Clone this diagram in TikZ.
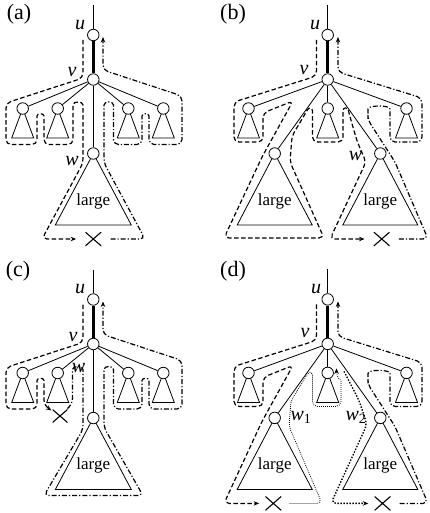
\documentclass[tikz,border=0pt]{standalone}
\usepackage{fontspec}
\setmainfont{Liberation Serif}
\usetikzlibrary{arrows.meta,backgrounds}
\begin{document}
\begin{tikzpicture}[x=1pt,y=-1pt,
  nd/.style={circle, draw, fill=white, minimum size=11.5pt, inner sep=0pt, line width=0.8pt},
  ed/.style={line width=0.8pt},
  tk/.style={line width=2.8pt},
  tri/.style={line width=0.8pt},
  lbl/.style={font=\fontsize{20}{20}\selectfont\itshape, inner sep=0pt},
  plbl/.style={font=\fontsize{22}{22}\selectfont, inner sep=0pt},
  big/.style={font=\fontsize{17}{17}\selectfont, inner sep=0pt},
  tour/.style={line width=1.2pt, rounded corners=5pt},
  dsh/.style={tour, dash pattern=on 4.5pt off 2.5pt},
  dd/.style={tour, dash pattern=on 5pt off 2pt on 1.2pt off 2pt},
  dta/.style={line width=0.8pt, rounded corners=5pt, dash pattern=on 0.8pt off 1.2pt},
  dtb/.style={line width=1.4pt, rounded corners=5pt, dash pattern=on 1.4pt off 1.6pt},
  arr/.style={-{Stealth[length=5.5pt,width=4.5pt]}},
  crs/.style={minimum width=16pt, minimum height=14pt, inner sep=0pt,
    path picture={\draw[line width=1.1pt] (path picture bounding box.north west) -- (path picture bounding box.south east)
      (path picture bounding box.north east) -- (path picture bounding box.south west);}},
  crss/.style={crs, minimum width=15pt, minimum height=13pt}
]
\useasboundingbox (0,0) rectangle (430,513);

% ---------- trees of panels (a) and (c)
\foreach \p/\dy in {a/0, c/264.5} {
 \begin{scope}[shift={(0,\dy)}]
  \coordinate (\p-top) at (93.3,5);
  \node[nd] (\p-u) at (93.3,35) {};
  \node[nd] (\p-v) at (93.3,79.5) {};
  \node[nd] (\p-c1) at (22.7,108.5) {};
  \node[nd] (\p-c2) at (57.7,108.5) {};
  \node[nd] (\p-c3) at (128.3,108.5) {};
  \node[nd] (\p-c4) at (163.3,108.5) {};
  \node[nd] (\p-w) at (93.3,153.5) {};
  \node[big] (\p-lg) at (93.3,201) {large};
  \draw[ed] (\p-top) -- (\p-u);
  \draw[tk] (\p-u) -- (\p-v);
  \foreach \q in {c1,c2,c3,c4,w} \draw[ed] (\p-v) -- (\p-\q);
  \begin{scope}[on background layer]
   \foreach \q in {c1,c2,c3,c4} \draw[tri] (\p-\q.center) -- ++(-11,29.5) -- ++(22,0) -- cycle;
   \draw[tri] (\p-w.center) -- ++(-38,71.5) -- ++(76,0) -- cycle;
  \end{scope}
 \end{scope}
}

% ---------- trees of panels (b) and (d)
\foreach \p/\dy in {b/0, d/264.4} {
 \begin{scope}[shift={(0,\dy)}]
  \coordinate (\p-top) at (327.7,5);
  \node[nd] (\p-u) at (327.7,35) {};
  \node[nd] (\p-v) at (327.7,79.5) {};
  \node[nd] (\p-c1) at (248.5,108.5) {};
  \node[nd] (\p-m) at (327.7,108.5) {};
  \node[nd] (\p-c4) at (406.5,108.5) {};
  \node[nd] (\p-L) at (274.7,153.5) {};
  \node[nd] (\p-W) at (380.3,153.5) {};
  \node[big] (\p-lgL) at (274.7,201) {large};
  \node[big] (\p-lgW) at (380.3,201) {large};
  \draw[ed] (\p-top) -- (\p-u);
  \draw[tk] (\p-u) -- (\p-v);
  \foreach \q in {c1,m,c4,L,W} \draw[ed] (\p-v) -- (\p-\q);
  \begin{scope}[on background layer]
   \foreach \q in {c1,m,c4} \draw[tri] (\p-\q.center) -- ++(-11,29.5) -- ++(22,0) -- cycle;
   \foreach \q in {L,W} \draw[tri] (\p-\q.center) -- ++(-37.5,71.5) -- ++(75,0) -- cycle;
  \end{scope}
 \end{scope}
}

% ---------- panel (a)
\node[plbl] (pa) at (19,14) {(a)};
\node[lbl] (a-ul) at (80,25) {u};
\node[lbl] (a-vl) at (72,72) {v};
\node[lbl] (a-wl) at (72,161.5) {w};
\node[crs] (a-x) at (93.3,239) {};
\draw[dsh, arr, shorten >=9pt] (83,40) -- (83,78) -- (6,103) -- (6,144.5) -- (37,144.5) -- (37,121)
  .. controls (37,113) and (44,113) .. (44,121) -- (44,144.5) -- (73,144.5) -- (73,110)
  .. controls (73,101) and (83,101) .. (83,110) -- (83,163) -- (42,239) -- (a-x);
\draw[dd, arr, shorten <=9pt] (a-x) -- (145,239) -- (104,163) -- (104,110)
  .. controls (104,101) and (113.5,101) .. (113.5,110) -- (113.5,144.5) -- (142,144.5) -- (142,121)
  .. controls (142,113) and (149,113) .. (149,121) -- (149,144.5) -- (182,144.5) -- (182,96) -- (103,70) -- (103,37);

% ---------- panel (c)
\node[plbl] (pc) at (18,271) {(c)};
\begin{scope}[shift={(0,264.5)}]
\node[lbl] (c-ul) at (80,25) {u};
\node[lbl] (c-vl) at (73,73) {v};
\node[lbl] (c-wl) at (78.5,103.5) {w};
\node[crss] (c-x) at (60,151.5) {};
\draw[dsh, arr, shorten >=1pt] (83,40) -- (83,78) -- (6,103) -- (6,144.5) -- (37,144.5) -- (37,121)
  .. controls (37,113) and (44,113) .. (44,121) -- (44,141) -- (c-x);
\draw[dd, arr, shorten <=1pt] (c-x) -- (72.5,139) -- (72.5,110)
  .. controls (72.5,101) and (83,101) .. (83,110) -- (83,165) -- (44,231) -- (143,231) -- (104,163) -- (104,110)
  .. controls (104,101) and (113.5,101) .. (113.5,110) -- (113.5,144.5) -- (142,144.5) -- (142,121)
  .. controls (142,113) and (149,113) .. (149,121) -- (149,144.5) -- (182,144.5) -- (182,96) -- (103,70) -- (103,37);
\end{scope}

% ---------- panel (b)
\node[plbl] (pb) at (233,14) {(b)};
\node[lbl] (b-ul) at (315,25) {u};
\node[lbl] (b-vl) at (304,70) {v};
\node[lbl] (b-wl) at (355.5,156) {w};
\node[crs] (b-x) at (381.7,239) {};
\draw[dsh, arr, shorten >=9pt] (316.5,40) -- (316.5,76) -- (234,102) -- (234,142) -- (263,142) -- (263,113)
  -- (293,101) -- (262,157) -- (224,238) -- (324,238) -- (290,162) -- (292,136) -- (305,114)
  .. controls (309,107) and (312.5,108) .. (312.5,116) -- (312.5,142) -- (343,142) -- (343,116)
  .. controls (343,107) and (347.5,107) .. (349.5,115) -- (357,141) -- (366,162) -- (330,239) -- (b-x);
\draw[dd, arr, shorten <=9pt] (b-x) -- (428,239) -- (395,162) -- (368,120) -- (368,114)
  .. controls (368,105) and (390,105) .. (390,114) -- (390,142) -- (422,142) -- (422,98) -- (338,72) -- (338,37);

% ---------- panel (d)
\node[plbl] (pd) at (233,271) {(d)};
\begin{scope}[shift={(0,264.4)}]
\node[lbl] (d-ul) at (316,25) {u};
\node[lbl] (d-vl) at (305,69) {v};
\node[lbl] (d-w1l) at (301,153) {w\textsubscript{\upshape 1}};
\node[lbl] (d-w2l) at (356,153) {w\textsubscript{\upshape 2}};
\node[crs] (d-x1) at (273.3,239) {};
\node[crs] (d-x2) at (382.5,239) {};
\draw[dsh, arr, shorten >=6pt] (316.5,40) -- (316.5,76) -- (234,102) -- (234,142) -- (263,142) -- (263,113)
  -- (293,101) -- (262,157) -- (224,239) -- (d-x1);
\draw[dta, arr, shorten <=8pt] (d-x1) -- (322,239) -- (289,162) -- (291,136) -- (305,114)
  .. controls (309,107) and (312.5,108) .. (312.5,116) -- (312.5,142) -- (341,142) -- (341,122)
  .. controls (341,115) and (336.5,114) .. (336.5,104);
\draw[dtb, arr, shorten >=6pt] (344,107) -- (359,136) -- (367,160) -- (331,239) -- (d-x2);
\draw[dd, arr, shorten <=9pt] (d-x2) -- (428,239) -- (395,162) -- (368,120) -- (368,114)
  .. controls (368,105) and (390,105) .. (390,114) -- (390,142) -- (422,142) -- (422,98) -- (338,72) -- (338,37);
\end{scope}
\end{tikzpicture}
\end{document}
